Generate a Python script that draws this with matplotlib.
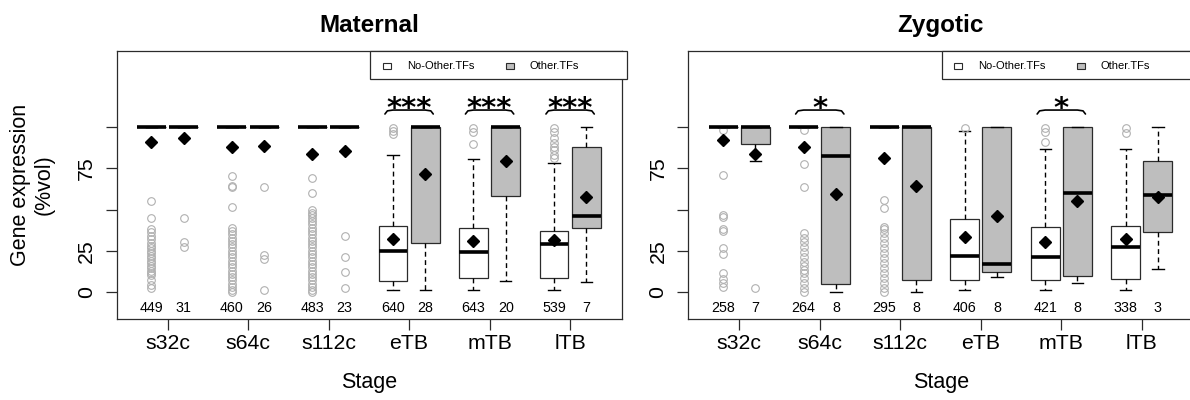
import matplotlib
matplotlib.use("Agg")
import matplotlib.pyplot as plt
from matplotlib.patches import Rectangle
import numpy as np

plt.rcParams['font.family'] = ['Liberation Sans', 'DejaVu Sans']

# ---------------- data ----------------
STAGES = ["s32c", "s64c", "s112c", "eTB", "mTB", "lTB"]
GROUPS = ["No-Other.TFs", "Other.TFs"]
PANELS = ["Maternal", "Zygotic"]
YTICKS = [0, 25, 50, 75, 100]
YTICK_LABELS = ["0", "25", "", "75", ""]
XLABEL = "Stage"
YLABEL = "Gene expression\n(%vol)"

# Maternal, No-Other.TFs
MAT_NO_MED = [100, 100, 100, 25.0, 24.2, 28.9]
MAT_NO_Q1 = [100, 100, 100, 6.9, 8.3, 8.7]
MAT_NO_Q3 = [100, 100, 100, 40.0, 39.0, 37.0]
MAT_NO_LO = [100, 100, 100, 1.2, 1.2, 1.2]
MAT_NO_HI = [100, 100, 100, 83.0, 80.4, 78.0]
MAT_NO_MEAN = [90.7, 88.1, 83.4, 31.9, 30.9, 31.3]
MAT_NO_N = [449, 460, 483, 640, 643, 539]
MAT_NO_OUT = [
    [55.2, 45.0, 38.2, 36.6, 33.9, 31.9, 29.5, 28.0, 26.5, 25.0, 23.4, 22.0, 20.4,
     19.0, 17.4, 16.0, 14.3, 13.0, 11.3, 10.0, 7.3, 4.5, 2.2],
    [70.1, 64.2, 63.5, 51.5, 38.6, 37.0, 35.0, 33.0, 31.0, 29.0, 27.0, 25.0, 23.0,
     21.0, 19.0, 17.0, 15.0, 13.0, 11.0, 9.0, 7.0, 5.0, 3.0, 1.0, 0.0],
    [69.3, 59.8, 49.7, 48.0, 46.5, 45.0, 43.0, 41.0, 39.0, 37.0, 35.0, 33.0, 31.0,
     29.0, 27.0, 25.0, 23.0, 21.0, 19.0, 17.0, 15.0, 13.0, 11.0, 9.0, 7.0, 5.0,
     3.0, 1.0, 0.0],
    [99.6, 97.6, 95.6],
    [99.6, 97.2, 89.9],
    [99.6, 96.8, 93.5, 90.1, 88.0, 86.0, 83.0, 81.0],
]

# Maternal, Other.TFs
MAT_OT_MED = [100, 100, 100, 100, 100, 46.2]
MAT_OT_Q1 = [100, 100, 100, 29.9, 58.2, 38.6]
MAT_OT_Q3 = [100, 100, 100, 100, 100, 88.1]
MAT_OT_LO = [100, 100, 100, 1.2, 6.7, 5.9]
MAT_OT_HI = [100, 100, 100, 100, 100, 100]
MAT_OT_MEAN = [93.5, 88.5, 85.6, 71.3, 79.4, 57.8]
MAT_OT_N = [31, 26, 23, 28, 20, 7]
MAT_OT_OUT = [
    [45.0, 30.5, 27.0],
    [63.6, 22.4, 20.2, 1.2],
    [33.9, 21.0, 11.9, 2.2],
    [], [], [],
]

# Zygotic, No-Other.TFs
ZYG_NO_MED = [100, 100, 100, 22.0, 21.4, 27.3]
ZYG_NO_Q1 = [100, 100, 100, 7.3, 7.3, 7.7]
ZYG_NO_Q3 = [100, 100, 100, 44.0, 39.4, 40.0]
ZYG_NO_LO = [100, 100, 100, 1.2, 1.2, 1.2]
ZYG_NO_HI = [100, 100, 100, 97.6, 86.7, 86.7]
ZYG_NO_MEAN = [92.1, 87.7, 81.4, 33.5, 30.3, 31.9]
ZYG_NO_N = [258, 264, 295, 406, 421, 338]
ZYG_NO_OUT = [
    [98.2, 70.9, 46.7, 45.3, 38.0, 37.0, 26.5, 23.0, 11.7, 7.7, 5.5, 2.8],
    [98.2, 77.6, 63.8, 35.9, 32.9, 30.0, 27.5, 24.0, 21.0, 18.0, 15.8, 13.5,
     11.7, 8.7, 5.7, 2.6, 0.0],
    [55.8, 50.7, 39.6, 38.0, 35.6, 32.7, 29.5, 26.5, 23.5, 20.5, 17.5, 14.5,
     11.5, 8.5, 5.5, 2.6, 0.0],
    [99.6],
    [99.6, 97.0, 90.7],
    [99.6, 96.6],
]

# Zygotic, Other.TFs
ZYG_OT_MED = [100, 82.2, 100, 17.2, 59.8, 58.8]
ZYG_OT_Q1 = [89.7, 4.6, 7.3, 12.3, 9.7, 36.2]
ZYG_OT_Q3 = [100, 100, 100, 100, 100, 79.4]
ZYG_OT_LO = [79.6, 0.0, 0.0, 8.9, 5.3, 13.8]
ZYG_OT_HI = [100, 100, 100, 100, 100, 100]
ZYG_OT_MEAN = [83.6, 59.2, 64.4, 46.0, 55.4, 57.8]
ZYG_OT_N = [7, 8, 8, 8, 8, 3]
ZYG_OT_OUT = [[2.2], [], [], [], [], []]

MAT_SIG = ["", "", "", "***", "***", "***"]
ZYG_SIG = ["", "*", "", "", "*", ""]

# ---------------- style ----------------
GREY = "#bebebe"
EDGE = "#2b2b2b"
FLIER = "#b0b0b0"


def make_stats(med, q1, q3, lo, hi, mean, out):
    return [dict(med=m, q1=a, q3=b, whislo=l, whishi=h, mean=mu,
                 fliers=np.asarray(o, dtype=float))
            for m, a, b, l, h, mu, o in zip(med, q1, q3, lo, hi, mean, out)]


def draw_panel(ax, title, no_stats, ot_stats, n_no, n_ot, sig):
    pos = np.arange(1, len(STAGES) + 1, dtype=float)
    for stats, off, face, counts in [(no_stats, -0.2, "white", n_no),
                                     (ot_stats, 0.2, GREY, n_ot)]:
        ax.bxp(stats, positions=pos + off, widths=0.36, capwidths=0.14,
               patch_artist=True, showmeans=True, manage_ticks=False,
               boxprops=dict(facecolor=face, edgecolor=EDGE, linewidth=0.9),
               whiskerprops=dict(color="black", linewidth=1.0,
                                 linestyle=(0, (3.5, 2.5))),
               capprops=dict(color="black", linewidth=1.0),
               medianprops=dict(color="black", linewidth=2.6,
                                solid_capstyle="butt", zorder=4),
               flierprops=dict(marker="o", markersize=5.5, markerfacecolor="none",
                               markeredgecolor=FLIER, markeredgewidth=0.8),
               meanprops=dict(marker="D", markersize=6.0, markerfacecolor="black",
                              markeredgecolor="black", zorder=5))
        for x, n in zip(pos + off, counts):
            ax.text(x, -9.7, str(n), ha="center", va="center", fontsize=10.3)

    # significance brackets
    bx = np.array([-0.30, -0.27, -0.20, 0.20, 0.27, 0.30])
    by = np.array([107.9, 109.8, 110.3, 110.3, 109.8, 107.9])
    for c, s in zip(pos, sig):
        if s:
            ax.plot(c + bx, by, color="black", linewidth=1.2,
                    solid_capstyle="round", solid_joinstyle="round")
            ax.text(c, 106.0, s, ha="center", va="baseline", fontsize=21,
                    fontweight="bold", family="DejaVu Sans")

    ax.set_xlim(0.368, 6.641)
    ax.set_ylim(-16.2, 146.1)
    ax.set_xticks(pos)
    ax.set_xticklabels(STAGES, fontsize=15.3)
    ax.set_yticks(YTICKS)
    ax.set_yticklabels(YTICK_LABELS, fontsize=15.3, rotation=90, va="center")
    ax.tick_params(axis="x", length=8, width=0.9, color=EDGE, pad=3)
    ax.tick_params(axis="y", length=8, width=0.9, color=EDGE, pad=7)
    for sp in ax.spines.values():
        sp.set_linewidth(0.9)
        sp.set_color(EDGE)
    ax.set_title(title, fontsize=17.5, fontweight="bold", pad=14)
    ax.set_xlabel(XLABEL, fontsize=15.5, va="center")
    ax.xaxis.set_label_coords(0.5, -0.239)

    # legend box (top-right corner, as in R's legend("topright"))
    L, B = 0.5016, 0.8954
    ax.add_patch(Rectangle((L, B), 1.0 - L + 0.01, 1.0 - B, transform=ax.transAxes,
                           facecolor="white", edgecolor=EDGE, linewidth=0.9,
                           zorder=6, clip_on=False))
    yc = 0.944
    for dx_sq, dx_tx, face, lab in [(0.0251, 0.0727, "white", GROUPS[0]),
                                    (0.2687, 0.3154, GREY, GROUPS[1])]:
        ax.add_patch(Rectangle((L + dx_sq, yc - 0.0099), 0.0158, 0.0198,
                               transform=ax.transAxes, facecolor=face,
                               edgecolor=EDGE, linewidth=0.8, zorder=7))
        ax.text(L + dx_tx, yc, lab, transform=ax.transAxes, ha="left",
                va="center", fontsize=8.0, zorder=7)


fig = plt.figure(figsize=(11.9, 4.0), dpi=100)
bottom, height = 0.20325, 0.66925
ax1 = fig.add_axes([0.09807, bottom, 0.42437, height])
ax2 = fig.add_axes([0.57849, bottom, 0.42437, height])

draw_panel(ax1, PANELS[0],
           make_stats(MAT_NO_MED, MAT_NO_Q1, MAT_NO_Q3, MAT_NO_LO, MAT_NO_HI,
                      MAT_NO_MEAN, MAT_NO_OUT),
           make_stats(MAT_OT_MED, MAT_OT_Q1, MAT_OT_Q3, MAT_OT_LO, MAT_OT_HI,
                      MAT_OT_MEAN, MAT_OT_OUT),
           MAT_NO_N, MAT_OT_N, MAT_SIG)
draw_panel(ax2, PANELS[1],
           make_stats(ZYG_NO_MED, ZYG_NO_Q1, ZYG_NO_Q3, ZYG_NO_LO, ZYG_NO_HI,
                      ZYG_NO_MEAN, ZYG_NO_OUT),
           make_stats(ZYG_OT_MED, ZYG_OT_Q1, ZYG_OT_Q3, ZYG_OT_LO, ZYG_OT_HI,
                      ZYG_OT_MEAN, ZYG_OT_OUT),
           ZYG_NO_N, ZYG_OT_N, ZYG_SIG)

ax1.set_ylabel(YLABEL, fontsize=15.5, va="center", linespacing=1.15)
ax1.yaxis.set_label_coords(-0.1667, 0.5)

fig.savefig("out.png", dpi=100)
